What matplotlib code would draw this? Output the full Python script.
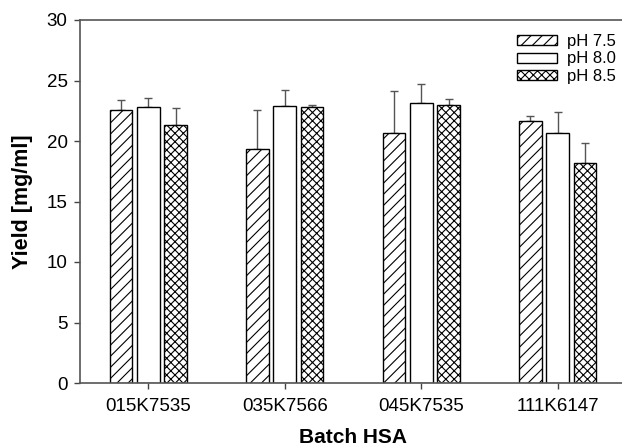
import numpy as np
import matplotlib
matplotlib.use("Agg")
from matplotlib import pyplot as plt

batches = ["015K7535", "035K7566", "045K7535", "111K6147"]
series = ["pH 7.5", "pH 8.0", "pH 8.5"]

ph75 = [22.6, 19.3, 20.7, 21.65]
ph80 = [22.8, 22.9, 23.1, 20.7]
ph85 = [21.3, 22.8, 23.0, 18.15]

ph75_err = [0.8, 3.3, 3.45, 0.4]
ph80_err = [0.75, 1.3, 1.6, 1.7]
ph85_err = [1.4, 0.2, 0.45, 1.65]

yticks = [0, 5, 10, 15, 20, 25, 30]

plt.rcParams['font.family'] = ['Liberation Sans', 'DejaVu Sans']
plt.rcParams['hatch.linewidth'] = 0.8

fig = plt.figure(figsize=(6.22, 4.46), dpi=100)
# axes right edge runs just past the picture, like the reference
ax = fig.add_axes([80 / 622, 63 / 446, 546 / 622, 363 / 446])

x = np.arange(len(batches))
width = 0.165
offsets = [-0.2, 0.0, 0.2]
hatches = ['///', '', 'xxxx']
values = [ph75, ph80, ph85]
errors = [ph75_err, ph80_err, ph85_err]

for vals, errs, off, h, lab in zip(values, errors, offsets, hatches, series):
    ax.bar(x + off, vals, width, color='white', edgecolor='black',
           linewidth=1.0, hatch=h, label=lab, zorder=2)
    ax.errorbar(x + off, vals, yerr=[np.zeros(len(errs)), errs], fmt='none',
                ecolor='#555555', elinewidth=1.0, capsize=3, capthick=1.0, zorder=1)

ax.set_xlim(-0.5, 3.5)
ax.set_ylim(0, 30)
ax.set_xticks(x)
ax.set_xticklabels(batches)
ax.set_yticks(yticks)
ax.tick_params(axis='both', direction='out', length=4, width=1.0,
               color='#444444', labelsize=13.5)
ax.tick_params(axis='x', pad=7)
ax.tick_params(axis='y', pad=5)

for side in ['left', 'bottom', 'top', 'right']:
    ax.spines[side].set_color('#555555')
    ax.spines[side].set_linewidth(1.2)

ax.set_xlabel("Batch HSA", fontsize=15, fontweight='bold', labelpad=9)
ax.set_ylabel("Yield [mg/ml]", fontsize=15.5, fontweight='bold', labelpad=10)

leg = ax.legend(loc='upper right', bbox_to_anchor=(616 / 622, 1 - 34 / 446),
                bbox_transform=fig.transFigure, frameon=False, fontsize=12,
                handlelength=2.4, handleheight=0.55, handletextpad=0.6,
                labelspacing=0.15, borderpad=0, borderaxespad=0)

fig.savefig("out.png", dpi=100)
